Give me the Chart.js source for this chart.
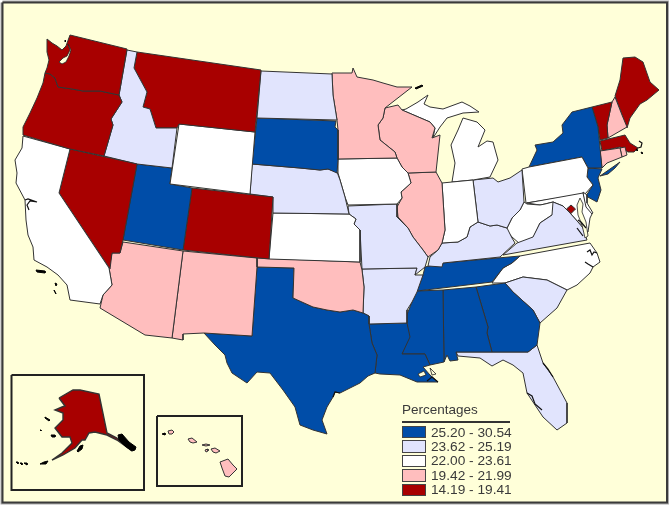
<!DOCTYPE html>
<html lang="en">
<head>
    <meta charset="utf-8">
    <title>Percentages by state</title>
    <script src="https://cdn.jsdelivr.net/npm/chart.js@4"></script>
    <style>
        body {
            margin: 0;
            background: #ffffff;
        }

        .map-wrap {
            position: relative;
            width: 672px;
            height: 508px;
        }

        #legend {
            position: absolute;
            left: 402px;
            top: 402px;
            width: 108px;
            font-family: "Liberation Sans", Arial, sans-serif;
            color: #3a3a3a;
        }

        #legend .title {
            font-size: 13.5px;
            line-height: 16px;
            height: 19px;
            border-bottom: 2px solid #333333;
            margin-bottom: 2px;
        }

        #legend .row {
            display: flex;
            align-items: center;
            height: 14.4px;
            font-size: 13.7px;
            white-space: nowrap;
        }

        #legend .swatch {
            box-sizing: border-box;
            flex: none;
            width: 24px;
            height: 12.5px;
            border: 1px solid #444444;
            margin-right: 5px;
        }
    </style>
</head>
<body>
    <div class="map-wrap">
        <canvas id="map" width="672" height="508"></canvas>
        <div id="legend"></div>
    </div>

    <script>
        // legend classes, top to bottom
        const legendTitle = "Percentages";
        const classLabels = ["25.20 - 30.54", "23.62 - 25.19", "22.00 - 23.61", "19.42 - 21.99", "14.19 - 19.41"];
        const classColors = ["#004da8", "#e1e4fd", "#ffffff", "#ffbebe", "#a80000"];
        const paperColor = "#ffffd9";

        // state -> legend class, earlier names are painted on top
        const stateNames = ["DC", "WA", "OR", "CA", "NV", "ID", "MT", "WY", "UT", "CO", "AZ", "NM", "ND", "SD", "NE", "KS", "OK", "TX",
            "MN", "IA", "MO", "AR", "LA", "WI", "IL", "IN", "MI", "MI2", "OH", "KY", "TN", "MS", "AL", "GA", "FL", "SC", "NC",
            "VA", "WV", "MD", "DE", "PA", "NY", "LI", "NJ", "CT", "RI", "MA", "VT", "NH", "ME", "AK", "HI1", "HI2", "HI3", "HI4", "HI5", "HI6"];
        const stateClasses = [4, 4, 4, 2, 4, 1, 4, 2, 0, 4, 3, 3, 1, 0, 1, 2, 3, 0,
            3, 2, 1, 1, 0, 3, 3, 2, 2, 2, 1, 1, 0, 0, 0, 0, 1, 1, 2,
            1, 2, 2, 2, 2, 0, 0, 0, 3, 3, 4, 4, 3, 4, 4, 3, 3, 3, 3, 3, 3];

        // outlines in map units
        const outlines = {
            WA: [[47,39],[52,43],[57,46],[62,50],[66,46],[70,35],[127,49],[119,95],[100,91],[83,91],[72,89],[58,87],[55,78],[50,74],[45,73],[47,68],[49,60],[47,52]],
            OR: [[45,73],[50,74],[55,78],[58,87],[72,89],[83,91],[100,91],[119,95],[122,102],[111,119],[113,125],[104,156],[70,149],[23,135],[23,127],[30,113],[37,98],[43,83]],
            CA: [[23,136],[70,149],[59,193],[109,268],[112,285],[103,295],[100,304],[70,300],[67,285],[58,275],[47,267],[34,260],[33,247],[28,235],[26,220],[25,200],[16,183],[17,173],[15,160],[22,148]],
            NV: [[70,149],[137,164],[123,240],[120,253],[112,253],[110,269],[59,193]],
            ID: [[127,50],[137,52],[134,68],[147,92],[143,107],[150,109],[156,128],[177,128],[172,168],[137,164],[104,156],[113,125],[111,119],[122,102],[119,95]],
            MT: [[137,52],[261,70],[255,132],[179,124],[177,128],[156,128],[150,109],[143,107],[147,92],[134,68]],
            WY: [[179,124],[255,132],[250,194],[170,184]],
            UT: [[137,164],[172,168],[170,184],[192,188],[183,250],[123,240]],
            CO: [[192,188],[273,197],[269,259],[183,250]],
            AZ: [[112,253],[120,253],[123,242],[183,251],[172,338],[145,335],[100,308],[103,295],[112,285],[109,268]],
            NM: [[183,251],[257,258],[257,267],[252,336],[204,333],[183,334],[183,340],[172,338]],
            ND: [[261,71],[332,74],[333,95],[337,120],[257,118]],
            SD: [[257,118],[336,121],[335,127],[338,130],[338,160],[337,173],[328,169],[320,170],[300,168],[252,164]],
            NE: [[252,164],[300,168],[320,170],[328,169],[337,172],[340,180],[345,197],[349,214],[273,213],[273,197],[250,194]],
            KS: [[273,213],[349,214],[356,219],[354,224],[360,230],[360,262],[269,259]],
            OK: [[257,258],[360,262],[362,270],[364,287],[363,313],[353,310],[340,312],[327,310],[313,307],[293,298],[294,268],[257,267]],
            TX: [[257,267],[294,268],[293,298],[313,307],[327,310],[340,312],[353,310],[363,313],[369,316],[369,324],[372,343],[377,355],[375,373],[368,376],[360,383],[350,388],[340,393],[335,392],[333,397],[327,407],[322,420],[327,434],[313,430],[300,425],[295,407],[283,390],[270,373],[257,372],[247,383],[232,373],[227,363],[225,355],[215,345],[204,333],[252,336]],
            MN: [[332,73],[352,73],[353,68],[357,77],[373,80],[383,83],[397,87],[412,87],[385,108],[383,118],[378,125],[380,140],[395,152],[397,158],[338,159],[338,130],[337,120],[333,95]],
            IA: [[338,159],[397,158],[402,167],[408,173],[411,183],[401,192],[402,198],[397,204],[348,205],[345,197],[338,173]],
            MO: [[348,206],[397,204],[397,217],[408,228],[413,237],[423,250],[428,257],[425,267],[415,275],[417,268],[362,269],[360,230],[354,224],[356,219],[349,214]],
            AR: [[362,269],[417,268],[415,275],[423,275],[417,292],[412,302],[407,310],[407,323],[369,324],[369,316],[363,313],[364,287]],
            LA: [[369,324],[407,323],[410,337],[402,354],[425,354],[430,365],[423,367],[430,375],[438,382],[417,382],[400,375],[380,374],[375,373],[377,355],[372,343]],
            WI: [[385,108],[398,105],[402,110],[430,122],[435,128],[432,138],[440,135],[436,172],[408,173],[402,167],[397,158],[395,152],[380,140],[378,125],[383,118]],
            IL: [[408,173],[436,172],[442,183],[445,230],[442,243],[438,250],[428,257],[423,250],[413,237],[408,228],[398,217],[397,207],[402,198],[401,192],[411,183]],
            IN: [[442,183],[452,182],[473,180],[478,222],[470,227],[467,237],[458,242],[442,243],[445,230]],
            MI: [[452,182],[455,163],[451,145],[458,130],[463,118],[477,122],[485,130],[478,147],[487,141],[493,142],[498,160],[490,177],[473,180]],
            MI2: [[406,109],[418,102],[428,95],[424,104],[430,107],[443,109],[462,102],[470,106],[479,112],[463,113],[447,118],[440,127],[433,138],[435,128],[430,122],[402,110]],
            OH: [[473,180],[493,178],[498,182],[510,178],[522,170],[524,202],[520,210],[512,218],[507,228],[497,225],[490,226],[478,222]],
            KY: [[442,243],[458,242],[467,237],[470,227],[478,222],[490,226],[497,225],[507,228],[512,238],[515,243],[500,257],[443,263],[442,267],[428,266],[430,257],[438,250]],
            TN: [[425,267],[442,263],[520,256],[512,263],[503,268],[492,282],[417,291],[423,275]],
            MS: [[417,291],[443,290],[444,362],[430,365],[425,354],[402,354],[408,337],[406,317],[412,302]],
            AL: [[443,290],[476,287],[488,327],[487,333],[492,352],[456,352],[458,360],[450,361],[447,355],[444,362]],
            GA: [[476,287],[505,283],[513,292],[533,310],[540,323],[537,345],[528,352],[492,352],[487,333],[488,327]],
            FL: [[456,352],[492,352],[528,352],[537,345],[543,363],[553,377],[567,403],[567,423],[557,430],[543,417],[527,393],[523,373],[513,365],[503,360],[492,366],[480,358],[458,356]],
            SC: [[505,283],[523,277],[547,280],[567,290],[557,308],[540,323],[533,310],[513,292]],
            NC: [[520,256],[590,243],[597,253],[600,262],[593,267],[590,273],[577,285],[567,290],[547,280],[523,277],[505,283],[492,283],[503,268],[512,263]],
            VA: [[503,255],[587,240],[583,228],[578,222],[570,213],[563,206],[553,202],[552,215],[540,223],[533,237],[517,243]],
            WV: [[527,204],[540,205],[545,204],[553,202],[560,206],[552,215],[540,223],[533,238],[520,244],[512,237],[506,230],[512,218],[520,210],[524,202]],
            MD: [[527,203],[583,193],[586,207],[592,214],[590,218],[588,232],[583,226],[578,222],[570,213],[563,206],[553,202],[545,204],[540,205]],
            DE: [[583,192],[587,195],[587,203],[593,213],[590,215],[585,208]],
            PA: [[522,169],[529,167],[582,157],[588,168],[587,177],[593,185],[585,194],[526,203]],
            NY: [[529,167],[537,150],[535,145],[553,142],[563,133],[562,125],[572,112],[592,107],[598,127],[602,168],[588,168],[582,157]],
            LI: [[600,176],[610,169],[620,162],[615,168],[608,174]],
            NJ: [[588,168],[602,169],[598,178],[601,190],[597,202],[586,196],[593,185],[587,177]],
            CT: [[600,151],[620,148],[622,157],[607,163],[602,168]],
            RI: [[620,148],[625,147],[627,155],[622,157]],
            MA: [[600,141],[625,135],[630,143],[638,148],[634,152],[628,152],[620,147],[602,151]],
            VT: [[592,107],[612,102],[607,125],[608,138],[600,140],[598,127]],
            NH: [[615,97],[622,115],[627,127],[608,138],[607,125],[612,102]],
            ME: [[615,96],[620,80],[623,58],[635,57],[643,62],[650,82],[659,90],[647,100],[640,104],[630,118],[627,128],[622,115]],
            DC: [[571,205],[575.5,209],[571,213.5],[566.5,209]],
            AK: [[59,398],[73,390],[80,390],[99,394],[107,433],[117,438],[132,451],[117,440],[107,435],[95,432],[89,433],[85,440],[82,440],[75,448],[63,455],[52,460],[62,453],[72,443],[70,437],[62,437],[55,428],[63,420],[63,413],[55,410],[62,407],[65,406]],
            HI1: [[168,431],[172,430],[174,432],[172,434],[169,434]],
            HI2: [[188,439],[192,438],[197,442],[193,443],[190,442]],
            HI3: [[202,445],[206,444],[210,445],[206,446]],
            HI4: [[205,450],[208,449],[208,451],[206,452]],
            HI5: [[211,449],[215,448],[220,451],[216,453],[213,452]],
            HI6: [[220,462],[228,459],[233,465],[237,469],[229,477],[225,476],[222,468]]
        };

        // islands and inlets, paper coloured or black on top of the states
        const paperBits = [
            [[68,44],[70,50],[67,56],[63,58],[59,62],[62,64],[66,62],[69,56],[71,50]],
            [[580,198],[583,204],[582,212],[586,222],[588,236],[585,238],[582,225],[578,215],[577,205]],
            [[418,374],[424,371],[426,375],[420,377]],
            [[430,368],[436,374],[432,375]]
        ];
        const blackBits = [
            [[118,435],[122,434],[129,442],[136,447],[135,450],[132,451],[125,446],[119,440]],
            [[45,417],[50,420],[49,421],[45,418]],
            [[51,435],[55,435],[55,437],[52,437]],
            [[77,451],[80,446],[83,445],[82,449],[78,452]],
            [[40,464],[44,462],[48,461],[46,464]],
            [[16,462],[18,462],[18,464]],
            [[20,463],[22,463],[22,465]],
            [[24,463],[27,463],[27,465]],
            [[40,430],[41,430],[41,431]],
            [[162,434],[165,433],[165,435]],
            [[36,270],[45,271],[45,273],[37,272]],
            [[55,283],[57,284],[56,286]],
            [[54,290],[55,292],[56,294]],
            [[65,40],[66,41],[65,42]],
            [[415,88],[422,85],[423,86],[416,89]],
            [[636,149],[638,150],[637,151]],
            [[641,152],[643,153],[642,154]]
        ];
        const blackLines = [
            [[25,200],[28,199],[37,202],[30,201],[27,205],[29,210]],
            [[638,148],[641,147],[642,143],[639,141]],
            [[583,236],[580,232],[577,228]],
            [[586,228],[581,222],[578,220]],
            [[597,253],[594,252],[592,255],[590,250],[587,252]],
            [[593,267],[588,264],[585,262]],
            [[543,363],[548,369],[553,377]],
            [[527,393],[532,396],[535,404],[542,410]],
            [[438,382],[432,377],[427,381]],
            [[340,393],[335,392],[333,397]]
        ];

        // inset and page frames
        const pageFrame = [[2.5,2.5],[667,2.5],[667,502.5],[2.5,502.5]];
        const alaskaFrame = [[11.5,375],[144,375],[144,490],[11.5,490]];
        const hawaiiFrame = [[157,416],[242,416],[242,486],[157,486]];

        function ring(points) {
            const ptsClosed = points.concat([points[0]]);
            return ptsClosed.map(p => ({ x: p[0], y: p[1] }));
        }

        function polygon(points, fillColor, lineColor, lineWidth) {
            return {
                data: ring(points),
                showLine: true,
                fill: fillColor ? "shape" : false,
                backgroundColor: fillColor || "transparent",
                borderColor: lineColor,
                borderWidth: lineWidth,
                pointRadius: 0,
                tension: 0,
                clip: false
            };
        }

        // first dataset is painted last
        const datasets = [];
        datasets.push(polygon(hawaiiFrame, null, "#222222", 2));
        datasets.push(polygon(alaskaFrame, null, "#222222", 2));
        blackLines.forEach(l => {
            const d = polygon(l, null, "#111111", 1.2);
            d.data.pop();
            datasets.push(d);
        });
        blackBits.forEach(b => datasets.push(polygon(b, "#000000", "#000000", 1)));
        paperBits.forEach(b => datasets.push(polygon(b, paperColor, "#222222", 0.8)));
        stateNames.forEach((name, i) => {
            const lineWidth = name === "AK" ? 1.4 : 1;
            datasets.push(polygon(outlines[name], classColors[stateClasses[i]], "#333333", lineWidth));
        });
        datasets.push(polygon(pageFrame, paperColor, "#3a3a3a", 2));
        datasets.push(polygon(pageFrame, null, "#aaaaaa", 4));

        new Chart(document.getElementById("map"), {
            type: "scatter",
            data: { datasets: datasets },
            options: {
                responsive: false,
                animation: false,
                layout: { padding: 0 },
                plugins: {
                    legend: { display: false },
                    tooltip: { enabled: false }
                },
                scales: {
                    x: { type: "linear", min: 0, max: 672, display: false },
                    y: { type: "linear", min: 0, max: 508, reverse: true, display: false }
                }
            }
        });

        // legend block
        const legend = document.getElementById("legend");
        let html = `<div class="title">${legendTitle}</div>`;
        classLabels.forEach((label, i) => {
            html += `<div class="row"><span class="swatch" style="background:${classColors[i]}"></span>${label}</div>`;
        });
        legend.innerHTML = html;
    </script>
</body>
</html>
